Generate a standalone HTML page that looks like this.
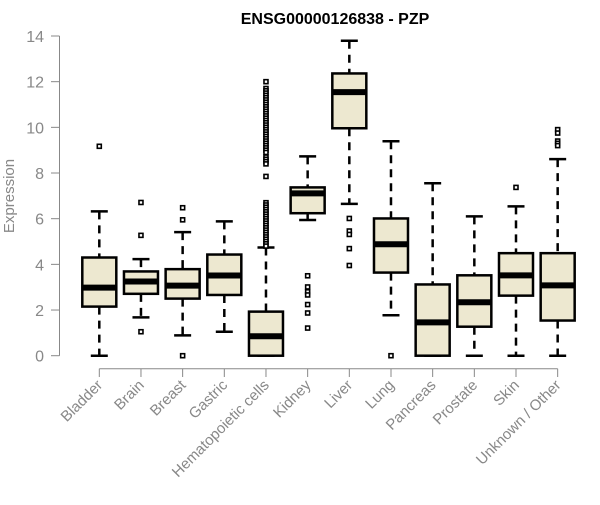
<!DOCTYPE html>
<html><head><meta charset="utf-8"><style>
body{margin:0;background:#fff}
svg text{font-family:"Liberation Sans",Arial,sans-serif}
</style></head><body>
<svg id="chart" width="600" height="500" xmlns="http://www.w3.org/2000/svg">
<text x="335" y="24" text-anchor="middle" font-weight="bold" font-size="16" fill="#000">ENSG00000126838 - PZP</text>
<text transform="translate(14,196) rotate(-90)" text-anchor="middle" font-size="15" fill="#888">Expression</text>
<g id="axes"></g><g id="marks"></g>
</svg>
<script>
const categories=["Bladder","Brain","Breast","Gastric","Hematopoietic cells","Kidney","Liver","Lung","Pancreas","Prostate","Skin","Unknown / Other"];
const whiskerLow=[0,1.68,0.89,1.05,0,5.94,6.65,1.77,0,0,0,0];
const q1=[2.15,2.71,2.50,2.66,0,6.24,9.96,3.64,0,1.27,2.63,1.54];
const medians=[2.98,3.25,3.07,3.51,0.85,7.11,11.54,4.88,1.46,2.34,3.52,3.08];
const q3=[4.30,3.69,3.79,4.43,1.93,7.37,12.36,6.01,3.12,3.52,4.49,4.49];
const whiskerHigh=[6.32,4.23,5.41,5.88,4.74,8.73,13.79,9.39,7.55,6.10,6.54,8.61];
const outliers=[[9.17],[6.71,5.27,1.05],[6.48,5.95,0],[],
[12.0,11.7,11.6,11.5,11.4,11.3,11.2,11.1,11.0,10.9,10.8,10.7,10.6,10.5,10.4,10.3,10.2,10.1,10.0,9.9,9.8,9.7,9.6,9.5,9.4,9.3,9.2,9.1,9.0,8.9,8.7,8.6,8.5,8.4,7.85,6.7,6.6,6.5,6.4,6.3,6.2,6.1,6.0,5.9,5.8,5.7,5.6,5.5,5.4,5.3,5.2,5.1,5.0,4.9,4.8],
[3.50,3.01,2.8,2.66,2.24,1.87,1.21],[6.01,5.46,5.31,4.69,3.95],[0],[],[],[7.37],[9.9,9.75,9.4,9.3,9.2]];
const yTicks=[0,2,4,6,8,10,12,14];
const y=v=>355.7-v*(355.7-36)/14;
const x=i=>99.3+i*41.67;
const NS="http://www.w3.org/2000/svg";
function mk(p,t,a){const e=document.createElementNS(NS,t);for(const k in a)e.setAttribute(k,a[k]);p.appendChild(e);return e;}
const ax=document.getElementById('axes'),mg=document.getElementById('marks');
let l=mk(ax,'line',{x1:59.5,x2:59.5,y1:y(0),y2:y(14),stroke:'#888','stroke-width':1});


yTicks.forEach(t=>{
 let tk=mk(ax,'line',{x1:51,x2:59.5,y1:y(t),y2:y(t),stroke:'#888'});
 
 
 let tx=mk(ax,'text',{x:44,y:y(t)+6,'text-anchor':'end','font-size':16,fill:'#888'});
 tx.textContent=t;
 
 
});
l=mk(ax,'line',{x1:x(0),x2:x(11),y1:368.7,y2:368.7,stroke:'#888'});


categories.forEach((c,i)=>{
 const cx=x(i),w=17;
 let tk=mk(ax,'line',{x1:cx,x2:cx,y1:368.7,y2:377,stroke:'#888'});
 
 
 let tx=mk(ax,'text',{transform:`translate(${cx+4},${386}) rotate(-45)`,'text-anchor':'end','font-size':15,fill:'#888'});
 tx.textContent=c;
 
 
 const g=mk(mg,'g',{});
 
 
 mk(g,'line',{x1:cx,x2:cx,y1:y(whiskerHigh[i]),y2:y(q3[i]),stroke:'#000','stroke-width':2.5,'stroke-dasharray':'8,6'});
 mk(g,'line',{x1:cx,x2:cx,y1:y(q1[i]),y2:y(whiskerLow[i]),stroke:'#000','stroke-width':2.5,'stroke-dasharray':'8,6'});
 mk(g,'line',{x1:cx-8.5,x2:cx+8.5,y1:y(whiskerHigh[i]),y2:y(whiskerHigh[i]),stroke:'#000','stroke-width':2.5});
 mk(g,'line',{x1:cx-8.5,x2:cx+8.5,y1:y(whiskerLow[i]),y2:y(whiskerLow[i]),stroke:'#000','stroke-width':2.5});
 mk(g,'rect',{x:cx-w,y:y(q3[i]),width:2*w,height:y(q1[i])-y(q3[i]),fill:'#EDE8D0',stroke:'#000','stroke-width':2.5});
 mk(g,'line',{x1:cx-w,x2:cx+w,y1:y(medians[i]),y2:y(medians[i]),stroke:'#000','stroke-width':6});
 outliers[i].forEach(v=>{mk(g,'rect',{x:cx-2,y:y(v)-2,width:4,height:4,fill:'#fff',stroke:'#000','stroke-width':1.6});});
});
</script>
</body></html>
